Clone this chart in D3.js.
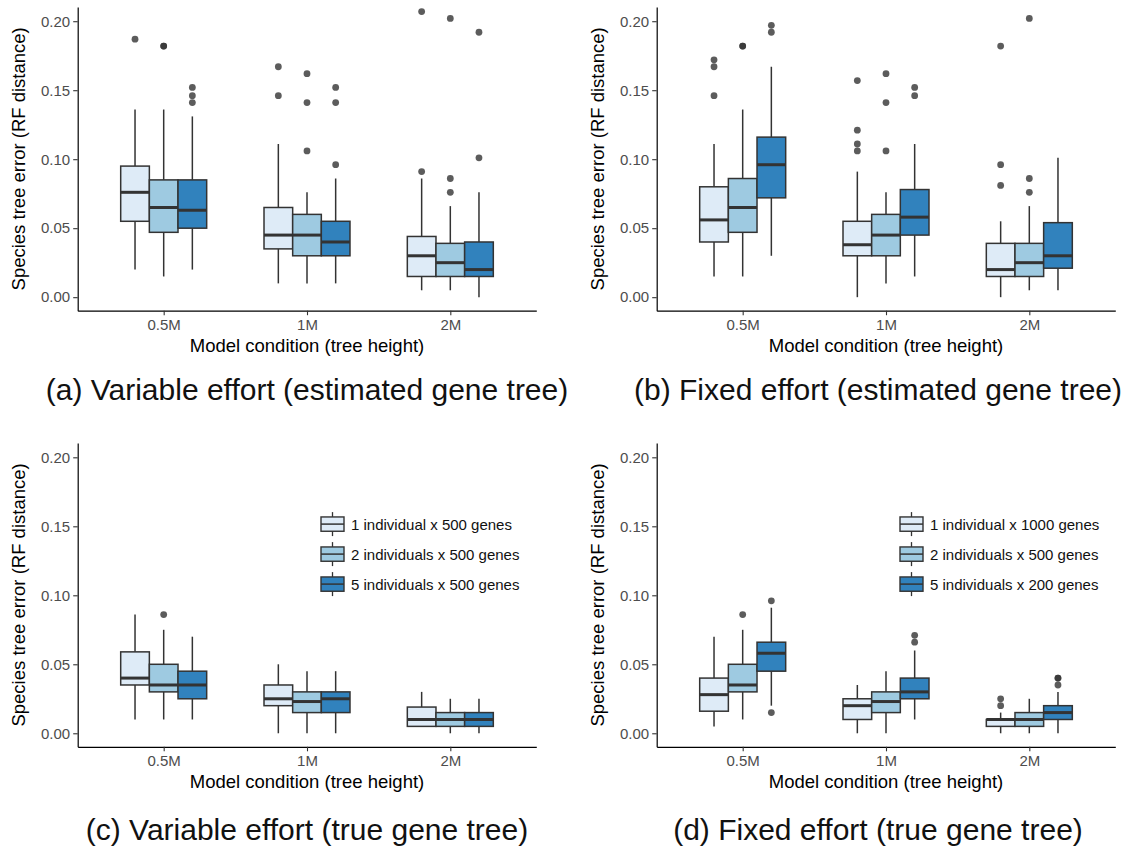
<!DOCTYPE html>
<html>
<head>
<meta charset="utf-8">
<script src="https://cdn.jsdelivr.net/npm/d3@7"></script>
<style>
  body { margin: 0; background: #fff; }
  svg { display: block; }
  text { font-family: "Liberation Sans", Arial, Helvetica, sans-serif; }
</style>
</head>
<body>
<svg id="fig" width="1132" height="855"></svg>
<script>
// Model conditions on the x axis and shared y ticks
const conditions = ["0.5M", "1M", "2M"];
const yTickValues = [0, 0.05, 0.10, 0.15, 0.20];
const fillColors = ["#deebf7", "#9ecae1", "#3182bd"];

const variableLegend = ["1 individual x 500 genes", "2 individuals x 500 genes", "5 individuals x 500 genes"];
const fixedLegend = ["1 individual x 1000 genes", "2 individuals x 500 genes", "5 individuals x 200 genes"];

// Box summaries per condition, one entry per sampling group:
// [lower whisker, Q1, median, Q3, upper whisker]
const variableEstStats = [
  [[0.020, 0.055, 0.076, 0.095, 0.136], [0.015, 0.047, 0.065, 0.085, 0.136], [0.020, 0.050, 0.063, 0.085, 0.131]],
  [[0.010, 0.035, 0.045, 0.065, 0.111], [0.010, 0.030, 0.045, 0.060, 0.076], [0.010, 0.030, 0.040, 0.055, 0.086]],
  [[0.005, 0.015, 0.030, 0.044, 0.086], [0.005, 0.015, 0.025, 0.039, 0.066], [0.000, 0.015, 0.020, 0.040, 0.076]]
];
const variableEstOutliers = [
  [[0.187], [0.182, 0.182], [0.152, 0.146, 0.141]],
  [[0.167, 0.146], [0.162, 0.141, 0.106], [0.152, 0.141, 0.096]],
  [[0.207, 0.091], [0.202, 0.086, 0.076], [0.192, 0.101]]
];

const fixedEstStats = [
  [[0.015, 0.040, 0.056, 0.080, 0.111], [0.015, 0.047, 0.065, 0.086, 0.136], [0.030, 0.072, 0.096, 0.116, 0.167]],
  [[0.000, 0.030, 0.038, 0.055, 0.091], [0.010, 0.030, 0.045, 0.060, 0.076], [0.015, 0.045, 0.058, 0.078, 0.111]],
  [[0.000, 0.015, 0.020, 0.039, 0.055], [0.005, 0.015, 0.025, 0.039, 0.066], [0.005, 0.021, 0.030, 0.054, 0.101]]
];
const fixedEstOutliers = [
  [[0.172, 0.167, 0.146], [0.182, 0.182], [0.197, 0.192]],
  [[0.157, 0.121, 0.111, 0.106], [0.162, 0.141, 0.106], [0.152, 0.146]],
  [[0.182, 0.096, 0.081], [0.202, 0.086, 0.076], []]
];

const variableTrueStats = [
  [[0.010, 0.035, 0.040, 0.059, 0.086], [0.010, 0.030, 0.035, 0.050, 0.075], [0.010, 0.025, 0.035, 0.045, 0.070]],
  [[0.000, 0.020, 0.025, 0.035, 0.050], [0.000, 0.015, 0.023, 0.030, 0.045], [0.000, 0.015, 0.025, 0.030, 0.045]],
  [[0.005, 0.005, 0.010, 0.019, 0.030], [0.000, 0.005, 0.010, 0.015, 0.025], [0.000, 0.005, 0.010, 0.015, 0.025]]
];
const variableTrueOutliers = [
  [[], [0.086], []],
  [[], [], []],
  [[], [], []]
];

const fixedTrueStats = [
  [[0.005, 0.016, 0.028, 0.040, 0.070], [0.010, 0.030, 0.035, 0.050, 0.075], [0.020, 0.045, 0.058, 0.066, 0.091]],
  [[0.000, 0.010, 0.020, 0.025, 0.035], [0.000, 0.015, 0.023, 0.030, 0.045], [0.010, 0.025, 0.030, 0.040, 0.060]],
  [[0.000, 0.005, 0.010, 0.010, 0.015], [0.000, 0.005, 0.010, 0.015, 0.025], [0.000, 0.010, 0.015, 0.020, 0.030]]
];
const fixedTrueOutliers = [
  [[], [0.086], [0.096, 0.015]],
  [[], [], [0.071, 0.066]],
  [[0.025, 0.020], [], [0.040, 0.040, 0.035]]
];

const captions = [
  "(a) Variable effort (estimated gene tree)",
  "(b) Fixed effort (estimated gene tree)",
  "(c) Variable effort (true gene tree)",
  "(d) Fixed effort (true gene tree)"
];

const yTitle = "Species tree error (RF distance)";
const xTitle = "Model condition (tree height)";

// Panel geometry
const panelWidth = 458.6;
const panelHeight = 303.7;
const yDomain = [-0.0098, 0.2103];
const panels = [
  { stats: variableEstStats, outliers: variableEstOutliers, legend: null,           caption: captions[0], left: 77.7,  top: 7.0,   capX: 307, capY: 400 },
  { stats: fixedEstStats,    outliers: fixedEstOutliers,    legend: null,           caption: captions[1], left: 656.7, top: 7.0,   capX: 878, capY: 400 },
  { stats: variableTrueStats,outliers: variableTrueOutliers,legend: variableLegend, caption: captions[2], left: 77.7,  top: 443.1, capX: 307, capY: 840 },
  { stats: fixedTrueStats,   outliers: fixedTrueOutliers,   legend: fixedLegend,    caption: captions[3], left: 656.7, top: 443.1, capX: 878, capY: 840 }
];

const svg = d3.select("#fig");
const ink = "#333333";

panels.forEach(p => {
  const right = p.left + panelWidth;
  const bottom = p.top + panelHeight;
  const g = svg.append("g");

  const x = d3.scalePoint().domain(conditions).range([p.left, right]).padding(0.6);
  const y = d3.scaleLinear().domain(yDomain).range([bottom, p.top]);
  const unit = x.step();
  const boxW = 0.2 * unit;
  const offsets = [-0.2 * unit, 0, 0.2 * unit];

  // Boxes
  conditions.forEach((c, ci) => {
    p.stats[ci].forEach((s, gi) => {
      const cx = x(c) + offsets[gi];
      const [lo, q1, med, q3, hi] = s;
      const bg = g.append("g");
      // outliers
      bg.selectAll("circle")
        .data(p.outliers[ci][gi])
        .join("circle")
        .attr("cx", cx)
        .attr("cy", d => y(d))
        .attr("r", 3.4)
        .attr("fill", ink)
        .attr("fill-opacity", 0.8);
      // whiskers
      bg.append("line")
        .attr("x1", cx).attr("x2", cx)
        .attr("y1", y(hi)).attr("y2", y(q3))
        .attr("stroke", ink).attr("stroke-width", 1.5);
      bg.append("line")
        .attr("x1", cx).attr("x2", cx)
        .attr("y1", y(q1)).attr("y2", y(lo))
        .attr("stroke", ink).attr("stroke-width", 1.5);
      // box
      bg.append("rect")
        .attr("x", cx - boxW / 2)
        .attr("y", y(q3))
        .attr("width", boxW)
        .attr("height", y(q1) - y(q3))
        .attr("fill", fillColors[gi])
        .attr("stroke", ink)
        .attr("stroke-width", 1.5);
      // median
      bg.append("line")
        .attr("x1", cx - boxW / 2).attr("x2", cx + boxW / 2)
        .attr("y1", y(med)).attr("y2", y(med))
        .attr("stroke", ink).attr("stroke-width", 3);
    });
  });

  // Axes
  const yAxis = g.append("g")
    .attr("transform", `translate(${p.left},0)`)
    .call(d3.axisLeft(y).tickValues(yTickValues).tickFormat(d3.format(".2f"))
      .tickSize(4.5).tickSizeOuter(0).tickPadding(3));
  const xAxis = g.append("g")
    .attr("transform", `translate(0,${bottom})`)
    .call(d3.axisBottom(x).tickSize(4.5).tickSizeOuter(0).tickPadding(4));
  [yAxis, xAxis].forEach(a => {
    a.select(".domain").attr("stroke", "#000").attr("stroke-width", 1.2);
    a.selectAll(".tick line").attr("stroke", ink).attr("stroke-width", 1.1);
    a.selectAll(".tick text").attr("fill", "#4d4d4d").style("font-size", "15px")
      .style("font-family", "'Liberation Sans', Arial, sans-serif");
  });

  // Axis titles
  g.append("text")
    .attr("x", (p.left + right) / 2)
    .attr("y", bottom + 41.5)
    .attr("text-anchor", "middle")
    .attr("fill", "#000")
    .style("font-size", "18.5px")
    .text(xTitle);
  g.append("text")
    .attr("transform", `translate(${p.left - 53.2},${(p.top + bottom) / 2}) rotate(-90)`)
    .attr("text-anchor", "middle")
    .attr("fill", "#000")
    .style("font-size", "18.5px")
    .text(yTitle);

  // Legend
  if (p.legend) {
    const kx = p.left + 243.3;
    const kw = 23, kh = 14.3;
    p.legend.forEach((label, i) => {
      const cy = p.top + 81 + i * 30;
      const lg = g.append("g");
      lg.append("line")
        .attr("x1", kx + kw / 2).attr("x2", kx + kw / 2)
        .attr("y1", cy - 12).attr("y2", cy + 12)
        .attr("stroke", ink).attr("stroke-width", 1.3);
      lg.append("rect")
        .attr("x", kx).attr("y", cy - kh / 2)
        .attr("width", kw).attr("height", kh)
        .attr("fill", fillColors[i])
        .attr("stroke", ink).attr("stroke-width", 1.4);
      lg.append("line")
        .attr("x1", kx).attr("x2", kx + kw)
        .attr("y1", cy).attr("y2", cy)
        .attr("stroke", ink).attr("stroke-width", 1.5);
      lg.append("text")
        .attr("x", kx + 30)
        .attr("y", cy + 5.5)
        .attr("fill", "#111")
        .style("font-size", "15px")
        .text(label);
    });
  }

  // Sub-figure caption
  svg.append("text")
    .attr("x", p.capX)
    .attr("y", p.capY)
    .attr("text-anchor", "middle")
    .attr("fill", "#111")
    .style("font-size", "30px")
    .text(p.caption);
});
</script>
</body>
</html>
